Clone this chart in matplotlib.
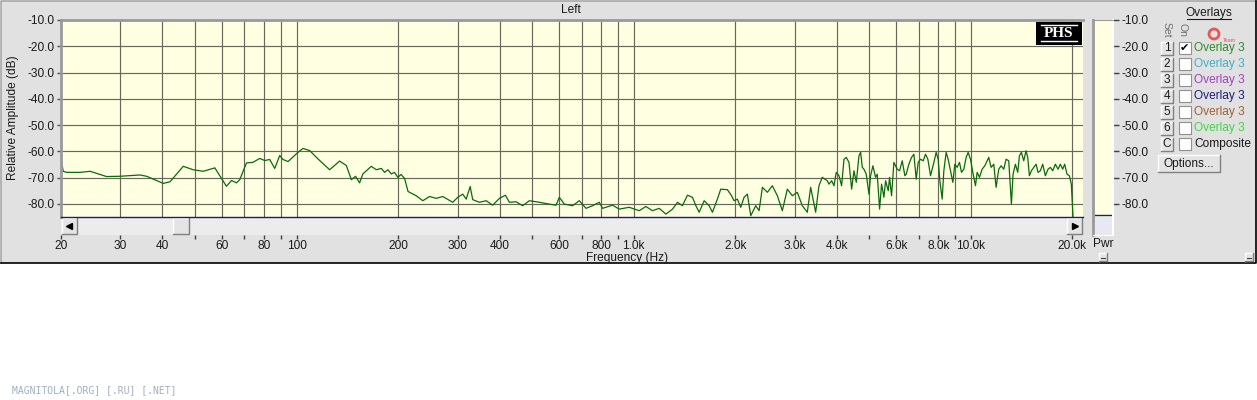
"""Spectrum analyser screenshot: 'Left' channel relative amplitude vs frequency."""

import matplotlib

matplotlib.use("Agg")

import matplotlib.pyplot as plt
from matplotlib.patches import Circle, Rectangle
from matplotlib.ticker import FixedFormatter, FixedLocator, NullLocator

W, H = 1257, 400
PANEL, PLOT_BG, GRID = "#e1e1e1", "#ffffe1", "#68685a"
TRACE, NAVY, FRAME = "#0b6a0b", "#1a1a80", "#9a9a9a"
TEXT = "#1a1a1a"

# trace: frequency (Hz) and level (dB)
FREQ_HZ = [
    20.0, 20.3, 20.8, 22.8, 24.4, 27.3, 29.9, 34.3, 35.9, 40.2, 42.1, 46.1,
    49.3, 52.8, 57.2, 61.9, 64.1, 66.3, 67.8, 71.0, 74.2, 77.7, 80.4, 83.2,
    86.1, 89.1, 91.1, 94.3, 100.9, 104.4, 109.3, 115.7, 125.3, 134.1, 140.4,
    145.3, 149.6, 153.7, 157.2, 166.5, 172.3, 178.3, 182.3, 186.5, 190.8,
    195.1, 199.6, 204.0, 209.0, 214.0, 226.2, 236.7, 247.8, 259.4, 271.3,
    290.4, 300.6, 311.0, 318.3, 327.1, 332.9, 348.5, 364.8, 381.6, 399.5,
    416.0, 427.6, 447.6, 468.2, 490.1, 524.6, 561.8, 588.0, 601.5, 622.3,
    658.4, 689.3, 721.6, 754.6, 790.0, 808.0, 865.0, 905.4, 969.3, 1038,
    1086, 1136, 1190, 1245, 1303, 1348, 1394, 1443, 1493, 1528, 1563, 1617,
    1673, 1711, 1770, 1811, 1895, 1950, 1983, 2029, 2076, 2124, 2172, 2223,
    2300, 2353, 2407, 2490, 2576, 2666, 2758, 2854, 2953, 3055, 3161, 3271,
    3347, 3463, 3542, 3623, 3749,
    3793, 3863, 3925, 3987, 4061, 4135, 4202, 4269, 4348, 4428, 4499, 4571,
    4655, 4708, 4762, 4816, 4893, 4983, 5040, 5120, 5214, 5274, 5359, 5432,
    5520, 5583, 5685, 5737, 5816, 5909, 6045, 6142, 6255, 6370, 6428, 6546,
    6666, 6773, 6882, 6976, 7088, 7218, 7334, 7452, 7589, 7763, 7888, 7996,
    8088, 8217, 8311, 8445, 8561, 8698, 8838, 8959, 9103, 9249, 9376, 9527,
    9680, 9813, 9970, 10130, 10316, 10434, 10602, 10797, 10994, 11168,
    11295, 11477, 11688, 11875, 12094, 12288, 12513, 12714, 12947, 13185,
    13336, 13550, 13768, 13925, 14116, 14343, 14573, 14740, 14908, 15113,
    15355, 15602, 15816, 16070, 16328, 16627, 16933, 17205, 17481, 17801,
    18128, 18419, 18715, 18972, 19276, 19586, 19855, 20100,
]
LEVEL_DB = [
    -62.5, -67.6, -68.0, -68.0, -67.6, -69.6, -69.5, -69.0, -69.5, -72.2,
    -71.6, -65.7, -67.0, -67.6, -66.3, -73.3, -71.1, -72.0, -70.8, -64.4,
    -64.2, -62.7, -63.5, -63.1, -66.5, -61.6, -63.1, -63.9, -60.4, -58.9,
    -59.7, -62.9, -67.0, -63.7, -65.4, -70.8, -69.5, -72.0, -68.6, -65.7,
    -67.0, -66.5, -68.0, -67.0, -68.6, -68.0, -69.9, -68.8, -70.3, -75.3,
    -76.9, -78.8, -77.2, -77.9, -77.2, -79.4, -77.5, -76.3, -78.2, -73.4,
    -78.4, -79.4, -78.8, -80.5, -77.9, -76.7, -79.4, -79.2, -80.7, -78.8,
    -79.4, -80.1, -80.5, -77.5, -80.1, -80.7, -78.8, -81.7, -80.7, -79.4,
    -81.7, -80.5, -82.0, -81.3, -82.6, -81.0, -82.6, -81.7, -83.9, -82.0,
    -79.4, -80.7, -76.7, -77.5, -80.7, -83.2, -78.8, -80.7, -83.2, -78.2,
    -74.4, -74.6, -76.9, -78.8, -78.2, -81.3, -77.5, -76.3, -84.5, -80.7,
    -82.6, -73.7, -75.6, -73.1, -76.9, -82.6, -74.4, -76.9, -75.6, -80.7,
    -83.2, -73.7, -83.2, -73.1, -69.9, -71.2,
    -72.5, -71.2, -73.1, -68.0, -69.3, -73.1, -63.0, -62.3, -64.2, -74.4,
    -67.4, -71.8, -61.7, -60.4, -66.1, -66.8, -68.7, -76.3, -69.3, -65.5,
    -69.9, -68.7, -82.0, -72.5, -77.5, -71.2, -75.0, -69.9, -76.9, -64.2,
    -66.8, -67.4, -63.6, -69.3, -68.7, -64.9, -62.3, -61.1, -70.6, -64.2,
    -63.0, -63.6, -61.1, -63.0, -69.3, -64.2, -60.4, -63.0, -71.2, -78.2,
    -67.4, -60.4, -63.0, -67.4, -71.8, -64.9, -66.1, -64.2, -68.0, -66.8,
    -62.3, -60.4, -63.0, -68.0, -73.1, -68.0, -69.9, -66.8, -65.5, -63.6,
    -62.3, -66.1, -64.9, -73.7, -66.8, -65.5, -66.8, -63.0, -63.6, -80.1,
    -68.7, -64.9, -68.0, -61.7, -60.4, -63.6, -59.8, -62.3, -69.3, -67.4,
    -66.1, -64.9, -68.0, -67.4, -64.9, -69.3, -66.8, -66.1, -67.4, -64.9,
    -66.8, -64.9, -66.8, -64.9, -68.7, -69.3, -72.5, -86.0,
]

GRID_HZ = [20, 30, 40, 50, 60, 70, 80, 90, 100,
           200, 300, 400, 500, 600, 700, 800, 900, 1000,
           2000, 3000, 4000, 5000, 6000, 7000, 8000, 9000, 10000, 20000]
FREQ_LABELS = {20: "20", 30: "30", 40: "40", 60: "60", 80: "80", 100: "100",
               200: "200", 300: "300", 400: "400", 600: "600", 800: "800",
               1000: "1.0k", 2000: "2.0k", 3000: "3.0k", 4000: "4.0k",
               6000: "6.0k", 8000: "8.0k", 10000: "10.0k", 20000: "20.0k"}
LEVEL_TICKS = [-10, -20, -30, -40, -50, -60, -70, -80]
FREQ_RANGE = (20, 21500)
LEVEL_RANGE = (-85, -10)

OVERLAY_KEYS = ["1", "2", "3", "4", "5", "6", "C"]
OVERLAY_NAMES = ["Overlay 3"] * 6 + ["Composite"]
OVERLAY_COLORS = ["#2f8a2f", "#3fb0c8", "#a040c0", "#1c1c80",
                  "#a0603a", "#40d840", TEXT]

plt.rcParams["font.family"] = ["Liberation Sans", "DejaVu Sans"]
plt.rcParams["axes.unicode_minus"] = False
FS = 8.6


def fig_rect(x0, y_top, w, h):
    """Pixel box (y measured from the top) -> figure fraction rect."""
    return [x0 / W, 1 - (y_top + h) / H, w / W, h / H]


def button(ax, x, y, w, h, fill="#e4e4e4"):
    ax.add_patch(Rectangle((x, y), w, h, fc=fill, ec="none"))
    ax.plot([x, x, x + w], [y + h, y, y], color="white", lw=1)
    ax.plot([x, x + w, x + w], [y + h, y + h, y], color="#808080", lw=1)


fig = plt.figure(figsize=(W / 100, H / 100), dpi=100, facecolor="white")

# back layer in pixel coordinates: window chrome
back = fig.add_axes([0, 0, 1, 1], zorder=0)
back.set_xlim(0, W)
back.set_ylim(H, 0)
back.axis("off")
back.add_patch(Rectangle((0.5, 0.5), W - 1.5, 262.5, fc=PANEL, ec="none"))
back.plot([0.5, 0.5, W - 1], [263, 0.8, 0.8], color="#a8a8a8", lw=1.2)
back.plot([0.5, W - 1, W - 1], [263.2, 263.2, 0.8], color="black", lw=1.2)
back.text(571, 10, "Left", ha="center", va="center", fontsize=FS, color=TEXT)

# scrollbar under the plot
back.add_patch(Rectangle((61, 217), 1022, 18, fc="#ececec", ec="none"))
button(back, 62, 218, 15, 16)
button(back, 1067, 218, 15, 16)
button(back, 173, 218, 16, 16)
back.plot([69], [226], marker="<", ms=4, color="black")
back.plot([1075], [226], marker=">", ms=4, color="black")
back.text(627, 257.5, "Frequency (Hz)", ha="center", va="center", fontsize=FS, color=TEXT)
back.text(13, 118, "Relative Amplitude (dB)", ha="center", va="center",
          rotation=90, fontsize=FS, color=TEXT)

# small window buttons and the power meter caption
back.text(1103, 244, "Pwr", ha="center", va="center", fontsize=FS, color=TEXT)
button(back, 1099, 253, 8, 8)
button(back, 1245, 253, 8, 8)
back.plot([1101, 1105], [258, 258], color="#404040", lw=0.8)
back.plot([1247, 1251], [258, 258], color="#404040", lw=0.8)

# overlays panel
back.text(1209, 13, "Overlays", ha="center", va="center", fontsize=FS, color=TEXT)
back.plot([1187, 1231], [18.5, 18.5], color=TEXT, lw=0.8)
back.text(1167, 30, "Set", ha="center", va="center", rotation=270, fontsize=7.5, color="#707070")
back.text(1182, 30, "On", ha="center", va="center", rotation=270, fontsize=7.5, color="#707070")
back.add_patch(Circle((1214, 34), 5, fc="none", ec="#e05a5a", lw=2))
back.text(1229, 41, "Team", ha="center", va="center", fontsize=4, color="#e05a5a")
for row, (key, name, colour) in enumerate(zip(OVERLAY_KEYS, OVERLAY_NAMES, OVERLAY_COLORS)):
    y = 48.3 + 16 * row
    button(back, 1161, y - 6.5, 12, 13)
    back.text(1167, y, key, ha="center", va="center", fontsize=FS, color=TEXT)
    back.add_patch(Rectangle((1178.5, y - 6), 12, 12, fc="white", ec="#909090", lw=0.8))
    back.text(1194, y, name, ha="left", va="center", fontsize=FS, color=colour)
back.text(1184.5, 48.5, "\u2714", ha="center", va="center", fontsize=8,
          color="black", family="DejaVu Sans")
button(back, 1158, 155, 62, 17)
back.text(1189, 163.5, "Options...", ha="center", va="center", fontsize=FS, color=TEXT)

back.text(12, 390, "MAGNITOLA[.ORG] [.RU] [.NET]", ha="left", va="center",
          fontsize=7, color="#9fb0c2", family="DejaVu Sans Mono")

# main spectrum plot
ax = fig.add_axes(fig_rect(61, 20, 1022, 197), zorder=2)
ax.set_facecolor(PLOT_BG)
ax.set_xscale("log")
ax.set_xlim(*FREQ_RANGE)
ax.set_ylim(*LEVEL_RANGE)
ax.xaxis.set_major_locator(FixedLocator(GRID_HZ))
ax.xaxis.set_minor_locator(NullLocator())
ax.tick_params(axis="x", length=0, labelbottom=False)
ax.set_yticks(LEVEL_TICKS, [f"{v:.1f}" for v in LEVEL_TICKS])
ax.tick_params(axis="y", length=3, width=1, color="#505050", pad=2,
               labelsize=FS, labelcolor=TEXT)
ax.grid(True, color=GRID, lw=0.85)
ax.set_axisbelow(True)
ax.plot(FREQ_HZ, LEVEL_DB, color=TRACE, lw=0.9)
ax.spines["right"].set_visible(False)
ax.spines["top"].set_color(FRAME)
ax.spines["top"].set_linewidth(2)
ax.spines["left"].set_color(FRAME)
ax.spines["left"].set_linewidth(2)
ax.spines["bottom"].set_color(NAVY)
ax.spines["bottom"].set_linewidth(1)

# frequency scale below the scrollbar
scale = fig.add_axes(fig_rect(61, 217, 1022, 18), zorder=1)
scale.patch.set_visible(False)
scale.set_xscale("log")
scale.set_xlim(*FREQ_RANGE)
scale.xaxis.set_major_locator(FixedLocator(GRID_HZ))
scale.xaxis.set_major_formatter(FixedFormatter([FREQ_LABELS.get(f, "") for f in GRID_HZ]))
scale.xaxis.set_minor_locator(NullLocator())
scale.tick_params(axis="x", length=3, width=1, color="#404040", pad=0.5,
                  labelsize=FS, labelcolor=TEXT)
scale.set_yticks([])
for side in scale.spines.values():
    side.set_visible(False)

# power meter with the right-hand level scale
pwr = fig.add_axes(fig_rect(1093, 20, 20, 215), zorder=2)
pwr_floor = LEVEL_RANGE[0] - 18 / 197 * (LEVEL_RANGE[1] - LEVEL_RANGE[0])
pwr.set_ylim(pwr_floor, LEVEL_RANGE[1])
pwr.set_facecolor(PLOT_BG)
pwr.axhspan(pwr_floor, LEVEL_RANGE[0], color="#e8e8f4", lw=0)
pwr.axhline(LEVEL_RANGE[0] + 0.6, xmin=0.1, xmax=0.9, color=NAVY, lw=1)
pwr.set_xticks([])
pwr.yaxis.tick_right()
pwr.set_yticks(LEVEL_TICKS, [f"{v:.1f}" for v in LEVEL_TICKS])
pwr.tick_params(axis="y", length=4, width=1, color="#404040", pad=2,
                labelsize=FS, labelcolor=TEXT)
pwr.spines["left"].set_color(FRAME)
pwr.spines["left"].set_linewidth(2)
pwr.spines["top"].set_color(FRAME)
pwr.spines["right"].set_color("white")
pwr.spines["right"].set_linewidth(1.5)
pwr.spines["bottom"].set_color("white")

# front layer: the PHS badge over the plot
front = fig.add_axes([0, 0, 1, 1], zorder=5)
front.set_xlim(0, W)
front.set_ylim(H, 0)
front.axis("off")
front.add_patch(Rectangle((1036, 22), 46, 23, fc="black", ec="none"))
front.text(1059, 33.5, "PHS", ha="center", va="center", fontsize=11,
           fontweight="bold", color="white", family="Liberation Serif")
front.plot([1041, 1077], [25, 25], color="white", lw=1)
front.plot([1041, 1077], [40.5, 40.5], color="white", lw=1)

fig.savefig("out.png", dpi=100, facecolor="white")
